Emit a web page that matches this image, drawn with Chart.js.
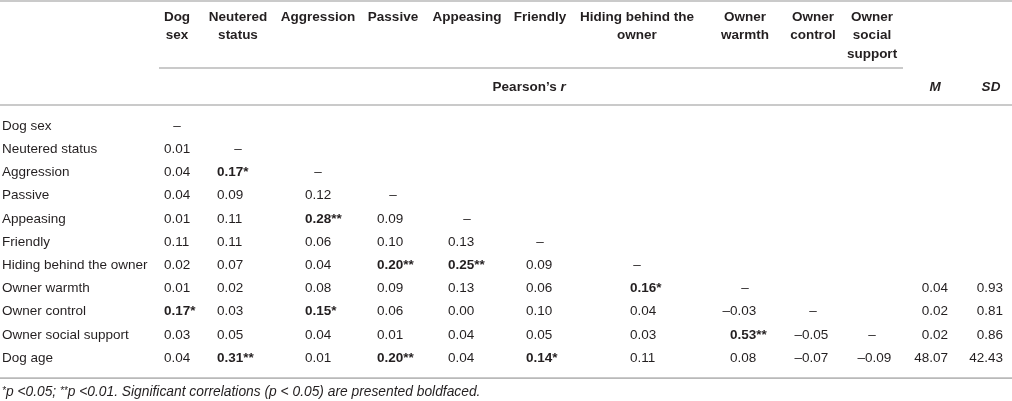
<!DOCTYPE html>
<html lang="en">
<head>
    <meta charset="UTF-8">
    <title>Pearson correlations</title>
    <script src="https://cdn.jsdelivr.net/npm/chart.js"></script>
    <style>
        body {
            margin: 0;
            background: #ffffff;
        }
        .wrap {
            position: relative;
            width: 1012px;
            height: 401px;
        }
    </style>
</head>
<body>
    <div class="wrap">
        <canvas id="tabla"></canvas>
    </div>

    <script>
        // Row variables (top to bottom)
        const rowLabels = ['Dog sex', 'Neutered status', 'Aggression', 'Passive', 'Appeasing', 'Friendly',
                           'Hiding behind the owner', 'Owner warmth', 'Owner control', 'Owner social support', 'Dog age'];

        // Column headers (one entry per line of the header)
        const colHeaders = [['Dog', 'sex'], ['Neutered', 'status'], ['Aggression'], ['Passive'], ['Appeasing'],
                            ['Friendly'], ['Hiding behind the', 'owner'], ['Owner', 'warmth'], ['Owner', 'control'],
                            ['Owner', 'social', 'support']];

        // Lower triangle of Pearson's r (row by row)
        const rValues = [
            [],
            [0.01],
            [0.04, 0.17],
            [0.04, 0.09, 0.12],
            [0.01, 0.11, 0.28, 0.09],
            [0.11, 0.11, 0.06, 0.10, 0.13],
            [0.02, 0.07, 0.04, 0.20, 0.25, 0.09],
            [0.01, 0.02, 0.08, 0.09, 0.13, 0.06, 0.16],
            [0.17, 0.03, 0.15, 0.06, 0.00, 0.10, 0.04, -0.03],
            [0.03, 0.05, 0.04, 0.01, 0.04, 0.05, 0.03, 0.53, -0.05],
            [0.04, 0.31, 0.01, 0.20, 0.04, 0.14, 0.11, 0.08, -0.07, -0.09]
        ];

        // Significance stars, same shape as rValues (0 = not significant)
        const rStars = [
            [],
            [0],
            [0, 1],
            [0, 0, 0],
            [0, 0, 2, 0],
            [0, 0, 0, 0, 0],
            [0, 0, 0, 2, 2, 0],
            [0, 0, 0, 0, 0, 0, 1],
            [1, 0, 1, 0, 0, 0, 0, 0],
            [0, 0, 0, 0, 0, 0, 0, 2, 0],
            [0, 2, 0, 2, 0, 1, 0, 0, 0, 0]
        ];

        const meanVals = [null, null, null, null, null, null, null, 0.04, 0.02, 0.02, 48.07];
        const sdVals = [null, null, null, null, null, null, null, 0.93, 0.81, 0.86, 42.43];

        // Footnote pieces (sup = raised star)
        const footnote = [['*', true], ['p <0.05; ', false], ['**', true],
                          ['p <0.01. Significant correlations (p < 0.05) are presented boldfaced.', false]];

        // Layout (x in canvas-width units of the linear scale)
        const headerCenter = [177, 238, 318, 393, 467, 540, 637, 745, 813, 872];
        const valueAnchor = [164, 217, 305, 377, 448, 526, 630, 730, 802, 865];
        const mCenter = 935, sdCenter = 991;
        const mRight = 948, sdRight = 1003;

        const ink = '#231f20';
        const rule = '#b9b9b9';
        const fam = '"Liberation Sans", Arial, Helvetica, sans-serif';
        const fs = '13.5px ';

        // Build the cells
        const cells = [];
        rowLabels.forEach((lab, r) => {
            rValues[r].forEach((v, c) => {
                cells.push({
                    x: valueAnchor[c], y: lab,
                    txt: Math.abs(v).toFixed(2) + '*'.repeat(rStars[r][c]),
                    neg: v < 0, bold: rStars[r][c] > 0, align: 'dec'
                });
            });
            if (r < colHeaders.length) {
                cells.push({ x: headerCenter[r], y: lab, txt: '\u2013', align: 'center' });
            }
            if (meanVals[r] !== null) {
                cells.push({ x: mRight, y: lab, txt: meanVals[r].toFixed(2), align: 'right' });
                cells.push({ x: sdRight, y: lab, txt: sdVals[r].toFixed(2), align: 'right' });
            }
        });

        const tablePlugin = {
            id: 'tablePlugin',
            afterDatasetsDraw(chart) {
                const ctx = chart.ctx;
                const xs = chart.scales.x, ys = chart.scales.y;
                const W = chart.width;
                ctx.save();
                ctx.textBaseline = 'middle';
                ctx.fillStyle = ink;

                // rules
                ctx.strokeStyle = rule;
                ctx.lineWidth = 1.6;
                const hline = (y, x0, x1) => {
                    ctx.beginPath();
                    ctx.moveTo(x0, y);
                    ctx.lineTo(x1, y);
                    ctx.stroke();
                };
                hline(1, 0, W);
                hline(68, xs.getPixelForValue(159), xs.getPixelForValue(903));
                hline(105, 0, W);
                hline(ys.bottom + 8.5, 0, W);

                // headers
                ctx.font = 'bold ' + fs + fam;
                ctx.textAlign = 'center';
                colHeaders.forEach((lines, c) => {
                    lines.forEach((t, k) => {
                        ctx.fillText(t, xs.getPixelForValue(headerCenter[c]), 17 + k * 18.5);
                    });
                });
                const pw = ctx.measureText('Pearson\u2019s ').width;
                const px = xs.getPixelForValue(529) - (pw + 5) / 2;
                ctx.textAlign = 'left';
                ctx.fillText('Pearson\u2019s ', px, 87);
                ctx.font = 'italic bold ' + fs + fam;
                ctx.fillText('r', px + pw, 87);
                ctx.textAlign = 'center';
                ctx.fillText('M', xs.getPixelForValue(mCenter), 87);
                ctx.fillText('SD', xs.getPixelForValue(sdCenter), 87);

                // row labels
                ctx.font = fs + fam;
                ctx.textAlign = 'left';
                rowLabels.forEach((lab, r) => {
                    ctx.fillText(lab, 2, ys.getPixelForValue(r));
                });

                // cells, placed at the points of the dataset
                const meta = chart.getDatasetMeta(0);
                meta.data.forEach((pt, i) => {
                    const d = cells[i];
                    ctx.font = (d.bold ? 'bold ' : '') + fs + fam;
                    if (d.align === 'dec') {
                        ctx.textAlign = 'left';
                        ctx.fillText(d.txt, pt.x, pt.y);
                        if (d.neg) {
                            ctx.textAlign = 'right';
                            ctx.fillText('\u2013', pt.x, pt.y);
                        }
                    } else {
                        ctx.textAlign = d.align;
                        ctx.fillText(d.txt, pt.x, pt.y);
                    }
                });

                // footnote
                ctx.textAlign = 'left';
                let fx = 2;
                const fy = ys.bottom + 22.5;
                footnote.forEach(([t, sup]) => {
                    ctx.font = 'italic ' + (sup ? '10px ' : '13.8px ') + fam;
                    ctx.fillText(t, fx, sup ? fy - 1 : fy);
                    fx += ctx.measureText(t).width;
                });
                ctx.restore();
            }
        };

        new Chart(document.getElementById('tabla'), {
            type: 'scatter',
            data: {
                datasets: [{
                    data: cells,
                    pointRadius: 0,
                    pointHoverRadius: 0
                }]
            },
            options: {
                responsive: true,
                maintainAspectRatio: false,
                animation: false,
                events: [],
                layout: { padding: { top: 114.4, bottom: 31.4, left: 0, right: 0 } },
                plugins: { legend: { display: false }, tooltip: { enabled: false } },
                scales: {
                    x: { type: 'linear', min: 0, max: 1012, display: false },
                    y: { type: 'category', labels: rowLabels, offset: true, display: false }
                }
            },
            plugins: [tablePlugin]
        });
    </script>
</body>
</html>
